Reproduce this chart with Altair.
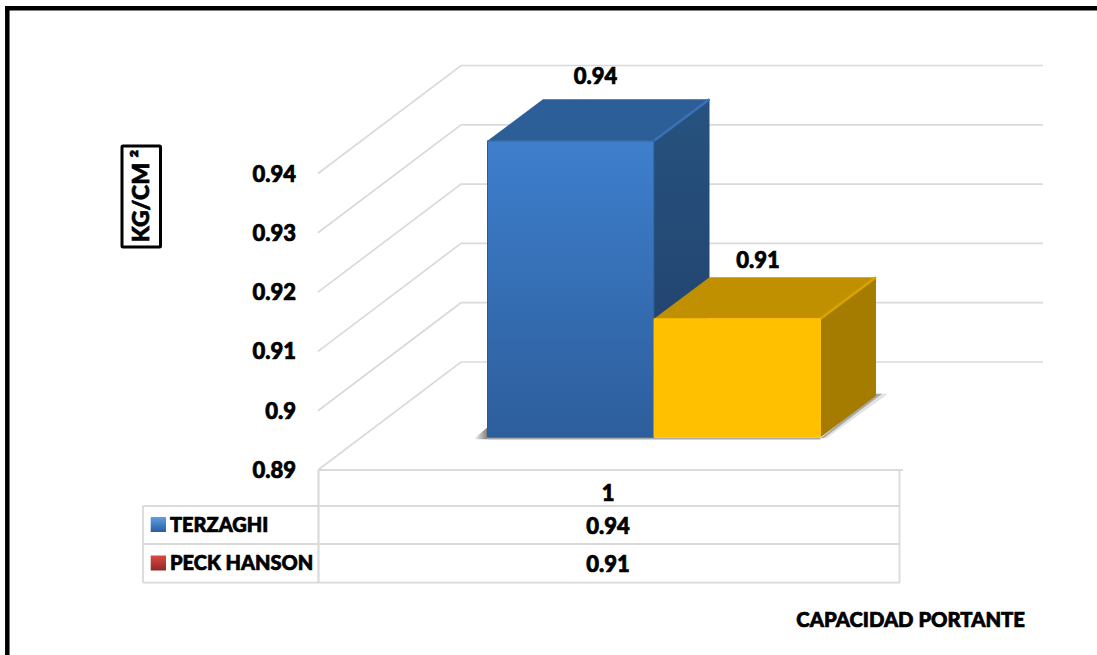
import altair as alt
import pandas as pd

# Chart values
series = ["TERZAGHI", "PECK HANSON"]
values = [0.94, 0.91]
ticks = [0.89, 0.90, 0.91, 0.92, 0.93, 0.94]
tick_labels = ["0.89", "0.9", "0.91", "0.92", "0.93", "0.94"]
category = "1"
label_rise = [64, 57.5]
label_shift = [-3, -7]
key_tops = ["#5f9fe6", "#dd4a42"]
key_bottoms = ["#2a5d9c", "#8f2826"]

# Scene geometry of the oblique projection, in pixels
WIDTH, HEIGHT = 1097, 655
BASE_Y = 470.0
PX_PER_UNIT = 5930.0
WALL_X0, WALL_X1, GRID_END = 318, 461, 1043
WALL_RISE = 108.0
BAR_LEFT, BAR_W = 487.5, 166.5
BAR_DX, BAR_DY = 55.5, 41.5
FLOOR_LIFT = 32.7
GRID = "#dadada"
FONT = "Lato"
TEXT_STYLE = dict(font=FONT, fontWeight=900, color="black", stroke="black",
                  strokeWidth=0.7, baseline="middle")


def lift(px):
    return px / PX_PER_UNIT


x_scale = alt.Scale(domain=[0, WIDTH], range=[0, WIDTH], nice=False, zero=False)
y_scale = alt.Scale(
    domain=[ticks[0] - lift(HEIGHT - BASE_Y), ticks[0] + lift(BASE_Y)],
    range=[HEIGHT, 0], nice=False, zero=False,
)
X = alt.X("x:Q", scale=x_scale, axis=None)
Y = alt.Y("y:Q", scale=y_scale, axis=None)


def gradient(c0, c1, x2, y2):
    return alt.LinearGradient(
        gradient="linear", x1=0, y1=0, x2=x2, y2=y2,
        stops=[alt.GradientStop(color=c0, offset=0),
               alt.GradientStop(color=c1, offset=1)],
    )


def vgrad(top, bottom):
    return gradient(top, bottom, 0, 1)


def hgrad(left, right):
    return gradient(left, right, 1, 0)


def vertical_face(rows, fill, **kw):
    # Face with vertical edges: x runs along it, y..y2 spans its height
    return alt.Chart(pd.DataFrame(rows, columns=["x", "y", "y2"])).mark_area(
        orient="vertical", fill=fill, **kw
    ).encode(x=X, y=Y, y2="y2:Q")


def horizontal_face(rows, fill, **kw):
    # Face with horizontal edges: y runs along it, x..x2 spans its width
    return alt.Chart(pd.DataFrame(rows, columns=["y", "x", "x2"])).mark_area(
        orient="horizontal", fill=fill, **kw
    ).encode(y=Y, x=X, x2="x2:Q")


def edge(rows, color, width):
    return alt.Chart(pd.DataFrame(rows, columns=["x", "y"])).mark_line(
        color=color, strokeWidth=width
    ).encode(x=X, y=Y)


layers = []

# Back wall and side wall grid lines
grid_rows = []
for t in ticks:
    grid_rows += [
        dict(tick=t, o=0, x=WALL_X0, y=t),
        dict(tick=t, o=1, x=WALL_X1, y=t + lift(WALL_RISE)),
        dict(tick=t, o=2, x=GRID_END, y=t + lift(WALL_RISE)),
    ]
layers.append(
    alt.Chart(pd.DataFrame(grid_rows)).mark_line(color=GRID, strokeWidth=1.7).encode(
        x=X, y=Y, detail="tick:N", order="o:Q",
    )
)

# Value scale labels, placed by the y scale beside the side wall
layers.append(
    alt.Chart(pd.DataFrame({"y": ticks, "t": tick_labels})).mark_text(
        align="right", fontSize=22, dy=1, **TEXT_STYLE
    ).encode(x=alt.value(296), y=Y, text="t:N")
)

base = ticks[0] + lift(FLOOR_LIFT)
palette = [
    dict(front=vgrad("#3e7fcd", "#2d5e9c"), side=vgrad("#27527f", "#203f69"),
         top="#2c5e97", hi="#3a72b5", line="#2c5a92"),
    dict(front="#ffc000", side="#a67c00", top="#c09000", hi="#d8a400", line="#ffc000"),
]

for i, v in enumerate(values):
    L = BAR_LEFT + i * BAR_W
    R = L + BAR_W
    top = v + lift(FLOOR_LIFT)
    back_top = top + lift(BAR_DY)
    back_base = base + lift(BAR_DY)
    c = palette[i]
    if i == 0:
        # Soft shadow at the lower left corner of the first bar
        layers.append(horizontal_face(
            [(base - lift(2), L - 14, L), (base + lift(10), L, L)],
            hgrad("#ffffff", "#7c7c7c"),
        ))
    else:
        # Soft shadow running out along the side of the last bar
        layers.append(horizontal_face(
            [(base - lift(1), R, R + 6), (back_base + lift(2), R + BAR_DX, R + BAR_DX + 12)],
            "#e2e2e2",
        ))
        layers.append(horizontal_face(
            [(base - lift(1), R, R + 3), (back_base + lift(2), R + BAR_DX, R + BAR_DX + 6)],
            "#a8a8a8",
        ))
    layers.append(horizontal_face(
        [(top, L, R), (back_top, L + BAR_DX, R + BAR_DX)], c["top"]
    ))
    layers.append(vertical_face(
        [(R, top, base), (R + BAR_DX, back_top, back_base)], c["side"]
    ))
    layers.append(edge(
        [(R, top), (R + BAR_DX, back_top)], c["hi"], 2.5
    ))
    layers.append(vertical_face(
        [(L, top, base), (R, top, base)], c["front"],
        stroke=c["line"], strokeWidth=1,
    ))
    layers.append(edge(
        [(L, base - lift(1.5)), (R, base - lift(1.5))], "#a9a9a9", 1.5
    ))
    # Value label above the bar
    layers.append(
        alt.Chart(pd.DataFrame([dict(
            x=(L + R + BAR_DX) / 2 + label_shift[i],
            y=top + lift(label_rise[i]), t=f"{v:.2f}",
        )])).mark_text(fontSize=22, **TEXT_STYLE).encode(x=X, y=Y, text="t:N")
    )


def hline(x1, x2, y, color=GRID, width=1.8):
    return alt.Chart(pd.DataFrame({"k": [0]})).mark_rule(
        color=color, strokeWidth=width
    ).encode(x=alt.value(x1), x2=alt.value(x2), y=alt.value(y))


def vline(x, y1, y2, color=GRID, width=1.8):
    return alt.Chart(pd.DataFrame({"k": [0]})).mark_rule(
        color=color, strokeWidth=width
    ).encode(x=alt.value(x), y=alt.value(y1), y2=alt.value(y2))


def label(text, x, y, size=22, align="center", angle=0):
    return alt.Chart(pd.DataFrame({"t": [text]})).mark_text(
        fontSize=size, align=align, angle=angle, **TEXT_STYLE
    ).encode(x=alt.value(x), y=alt.value(y), text="t:N")


# Data table under the plot
layers += [
    hline(318, 903, 470),
    hline(143, 900, 506),
    hline(143, 900, 544),
    hline(143, 900, 582.7),
    vline(143, 506, 582.7),
    vline(318.5, 470, 582.7, width=2.2),
    vline(899.5, 470, 582.7),
    label(category, 608, 493.5),
]
for i, name in enumerate(series):
    row_y = [526, 564][i]
    key_y = [517, 555.5][i]
    layers.append(
        alt.Chart(pd.DataFrame({"k": [0]})).mark_rect(
            fill=vgrad(key_tops[i], key_bottoms[i])
        ).encode(x=alt.value(150.7), x2=alt.value(166), y=alt.value(key_y), y2=alt.value(key_y + 15))
    )
    layers.append(label(name, 170, row_y, size=20, align="left"))
    layers.append(label(f"{values[i]:.2f}", 608, [527, 564.5][i]))

# Axis caption box, horizontal caption and the outer frame
layers += [
    alt.Chart(pd.DataFrame({"k": [0]})).mark_rect(
        fill="white", stroke="black", strokeWidth=3, cornerRadius=1
    ).encode(x=alt.value(122), x2=alt.value(160.5), y=alt.value(146), y2=alt.value(247)),
    label("KG/CM ²", 141.5, 196, size=23, angle=270),
    label("CAPACIDAD PORTANTE", 1025, 621, size=20.3, align="right"),
    hline(5, WIDTH, 8.2, color="black", width=4.5),
    vline(7.3, 6, HEIGHT, color="black", width=4.5),
]

chart = alt.layer(*layers).properties(
    width=WIDTH, height=HEIGHT, padding=0,
    autosize=alt.AutoSizeParams(type="none"),
    background="white",
).configure_view(stroke=None)

chart.save("out.html", embed_options={"renderer": "svg", "actions": False})
